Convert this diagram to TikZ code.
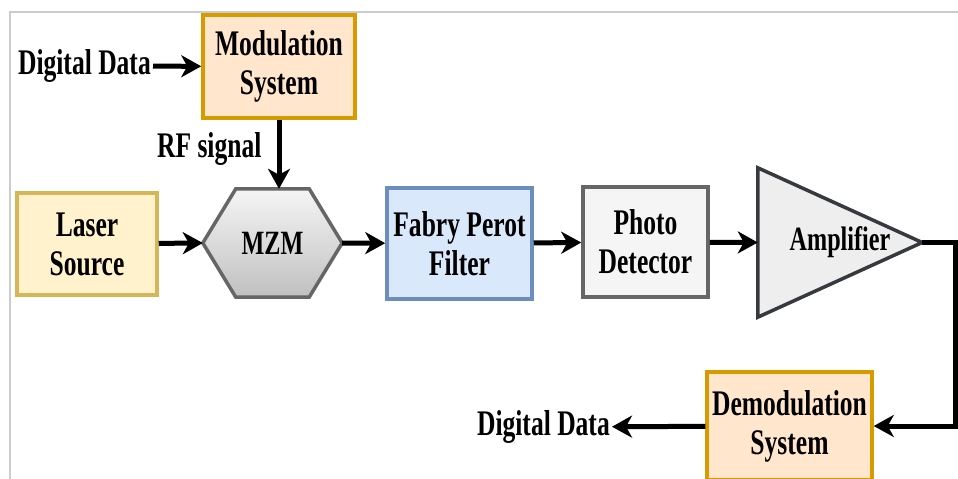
\documentclass[tikz,border=0pt]{standalone}
\usepackage{fontspec}
\setmainfont{Liberation Serif}[FakeStretch=0.71]
\usetikzlibrary{arrows.meta,calc}
\definecolor{orfill}{HTML}{FFE6CC}
\definecolor{ordraw}{HTML}{D79B00}
\definecolor{yefill}{HTML}{FFF2CC}
\definecolor{yedraw}{HTML}{D6B656}
\definecolor{blfill}{HTML}{DAE8FC}
\definecolor{bldraw}{HTML}{6C8EBF}
\definecolor{grfill}{HTML}{F5F5F5}
\definecolor{grdraw}{HTML}{666666}
\definecolor{ampfill}{HTML}{EEEEEE}
\definecolor{ampdraw}{HTML}{36393D}
\definecolor{frm}{HTML}{CCCCCC}
\tikzset{
  txt/.style={inner sep=0pt, align=center, font=\bfseries\fontsize{36}{39}\selectfont},
  blk/.style={txt, rectangle, line width=3.5pt},
  lbl/.style={inner sep=2pt, font=\bfseries\fontsize{36}{39}\selectfont},
  sig/.style={-{Stealth[length=20pt,width=22pt,inset=6pt]}, line width=5pt},
  hexa/.style={draw=grdraw, line width=3.5pt, top color=grfill, bottom color=grfill!55!gray},
}
\begin{document}
\begin{tikzpicture}[x=1pt,y=-1pt]
\useasboundingbox (0,0) rectangle (958,479);
\draw[frm, line width=1.5pt] (10,479) -- (10,12) -- (958,12);
% top row
\node[blk, draw=ordraw, fill=orfill, minimum width=152pt, minimum height=103pt] (mod) at (279,66.5) {Modulation\\System};
\node[lbl, anchor=east] (din) at (153,66) {Digital Data};
% main chain
\node[blk, draw=yedraw, fill=yefill, minimum width=140pt, minimum height=102pt] (laser) at (87,244) {Laser\\Source};
\node[minimum width=139pt, minimum height=108pt] (mzm) at (272.5,243) {};
\draw[hexa] (mzm.west) -- ($(mzm.north west)+(33,0)$) -- ($(mzm.north east)+(-33,0)$) -- (mzm.east)
  -- ($(mzm.south east)+(-33,0)$) -- ($(mzm.south west)+(33,0)$) -- cycle;
\node[txt, font=\bfseries\fontsize{34}{38}\selectfont] at (mzm) {MZM};
\node[blk, draw=bldraw, fill=blfill, minimum width=145pt, minimum height=111pt] (fab) at (459.5,243.5) {Fabry Perot\\Filter};
\node[blk, draw=grdraw, fill=grfill, minimum width=125pt, minimum height=110pt] (pd) at (645.5,242) {Photo\\Detector};
\node[minimum width=164pt, minimum height=149pt] (amp) at (840,242.5) {};
\draw[fill=ampfill, draw=ampdraw, line width=3.5pt] (amp.north west) -- (amp.south west) -- (amp.east) -- cycle;
\node[txt, font=\bfseries\fontsize{34}{38}\selectfont] at (amp) {Amplifier};
% bottom row
\node[blk, draw=ordraw, fill=orfill, minimum width=165pt, minimum height=108pt] (dem) at (789.5,426) {Demodulation\\System};
\node[lbl, anchor=east] (dout) at (612,427) {Digital Data};
% connectors
\draw[sig] (din) -- (mod);
\draw[sig] (mod.south) -- (mod.south |- mzm.north) node[lbl, pos=0.42, left=13pt] {RF signal};
\draw[sig] (laser) -- (mzm.west);
\draw[sig] (mzm.east) -- (fab);
\draw[sig] (fab) -- (pd);
\draw[sig] (pd) -- (amp.west);
\draw[sig] (amp.east) -- ++(33,0) |- (dem.east);
\draw[sig] (dem) -- (dout);
\end{tikzpicture}
\end{document}
